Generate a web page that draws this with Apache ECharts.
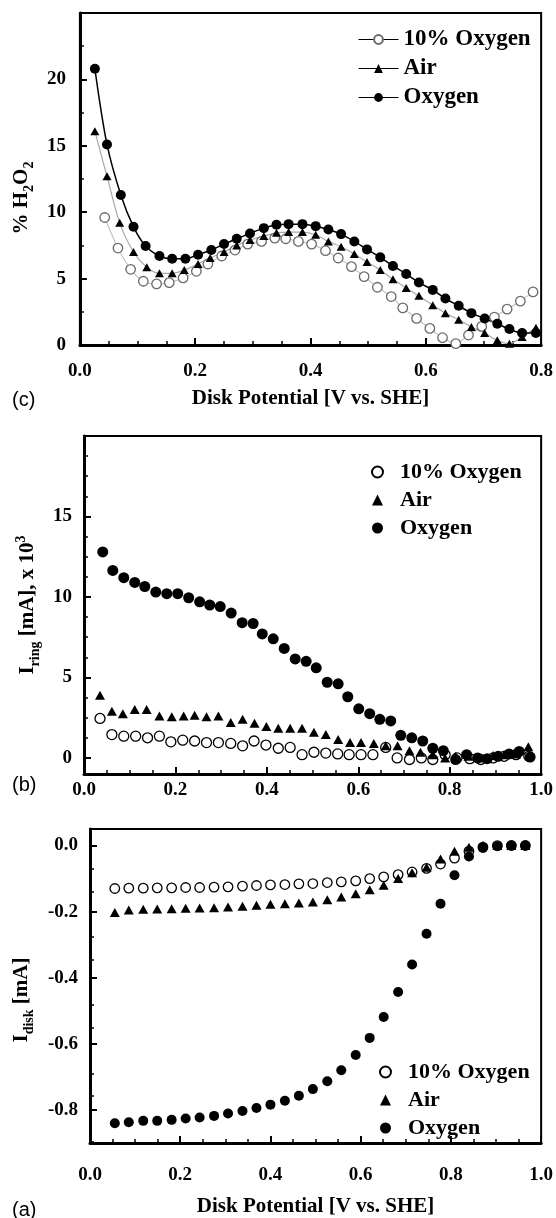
<!DOCTYPE html>
<html><head><meta charset="utf-8">
<script src="https://cdn.jsdelivr.net/npm/echarts@6/dist/echarts.min.js"></script>
<style>html,body{margin:0;padding:0;background:#fff}#chart{width:556px;height:1218px}</style>
</head><body><div id="chart"></div>
<script>
// ---------- Panel (c): % H2O2 vs disk potential ----------
const c10X  = [0.043,0.066,0.088,0.110,0.133,0.155,0.179,0.202,0.222,0.246,0.269,0.291,0.315,0.338,0.357,0.379,0.402,0.426,0.448,0.471,0.493,0.516,0.540,0.560,0.584,0.607,0.629,0.652,0.674,0.697,0.719,0.741,0.764,0.786];
const c10Y  = [9.6,7.3,5.7,4.8,4.6,4.7,5.05,5.55,6.1,6.7,7.15,7.6,7.8,8.05,8.0,7.8,7.6,7.1,6.55,5.9,5.15,4.35,3.65,2.8,2.0,1.25,0.55,0.1,0.75,1.4,2.1,2.7,3.3,4.0];
const cAirX = [0.026,0.047,0.069,0.093,0.116,0.138,0.160,0.181,0.205,0.226,0.250,0.272,0.295,0.319,0.341,0.362,0.386,0.409,0.431,0.453,0.476,0.498,0.521,0.543,0.566,0.588,0.612,0.634,0.657,0.679,0.702,0.724,0.745,0.767,0.791];
const cAirY = [16.1,12.7,9.2,7.0,5.85,5.4,5.4,5.65,6.1,6.55,7.0,7.5,7.9,8.2,8.45,8.5,8.5,8.3,7.8,7.4,6.85,6.25,5.65,4.95,4.3,3.7,3.0,2.4,1.9,1.35,0.9,0.35,0.1,0.6,1.3];
const cOxyX = [0.026,0.047,0.071,0.093,0.114,0.138,0.160,0.183,0.205,0.228,0.250,0.272,0.295,0.319,0.341,0.362,0.386,0.409,0.431,0.453,0.476,0.498,0.521,0.543,0.566,0.588,0.612,0.634,0.657,0.679,0.702,0.724,0.745,0.767,0.791];
const cOxyY = [20.8,15.1,11.3,8.9,7.45,6.7,6.5,6.5,6.8,7.15,7.6,8.0,8.4,8.8,9.05,9.1,9.1,8.95,8.7,8.35,7.8,7.2,6.6,5.95,5.35,4.7,4.15,3.5,2.95,2.4,2.0,1.6,1.2,0.9,0.9];

// ---------- Panel (b): I_ring vs disk potential ----------
const b10X  = [0.035,0.061,0.087,0.113,0.139,0.165,0.190,0.216,0.242,0.268,0.294,0.321,0.347,0.372,0.398,0.425,0.451,0.477,0.503,0.529,0.555,0.580,0.606,0.632,0.660,0.685,0.712,0.738,0.763,0.790,0.816,0.844,0.868,0.895,0.919,0.945,0.973];
const b10Y  = [2.45,1.45,1.35,1.35,1.25,1.35,1.0,1.1,1.05,0.95,0.95,0.9,0.75,1.05,0.8,0.6,0.65,0.2,0.35,0.3,0.25,0.2,0.2,0.2,0.65,0.0,-0.1,0.0,-0.1,0.2,0.0,-0.05,-0.1,0.0,0.1,0.2,0.1];
const bAirX = [0.035,0.061,0.085,0.111,0.137,0.165,0.192,0.218,0.242,0.268,0.294,0.321,0.347,0.373,0.399,0.425,0.451,0.477,0.503,0.529,0.556,0.582,0.606,0.634,0.660,0.686,0.712,0.736,0.763,0.790,0.813,0.841,0.867,0.895,0.919,0.945,0.972];
const bAirY = [3.9,2.9,2.75,3.0,3.0,2.6,2.55,2.6,2.65,2.55,2.6,2.2,2.4,2.15,1.95,1.85,1.85,1.85,1.6,1.45,1.15,0.95,0.95,0.9,0.75,0.75,0.45,0.35,0.2,0.0,0.1,0.1,0.0,0.15,0.2,0.25,0.7];
const bOxyX = [0.041,0.063,0.087,0.111,0.133,0.157,0.181,0.205,0.229,0.253,0.275,0.298,0.322,0.346,0.370,0.390,0.414,0.438,0.462,0.486,0.508,0.532,0.556,0.577,0.601,0.625,0.647,0.671,0.693,0.717,0.741,0.763,0.786,0.813,0.837,0.861,0.882,0.906,0.930,0.952,0.976];
const bOxyY = [12.8,11.65,11.2,10.9,10.65,10.3,10.2,10.2,9.95,9.7,9.5,9.4,9.0,8.4,8.35,7.7,7.4,6.8,6.15,6.0,5.6,4.7,4.6,3.8,3.05,2.75,2.4,2.3,1.4,1.25,1.05,0.6,0.45,-0.1,0.2,0.0,-0.05,0.1,0.25,0.4,0.05];

// ---------- Panel (a): I_disk vs disk potential ----------
const aX    = [0.055,0.086,0.118,0.149,0.181,0.212,0.243,0.275,0.306,0.338,0.369,0.400,0.432,0.463,0.494,0.526,0.557,0.589,0.620,0.651,0.683,0.714,0.746,0.777,0.808,0.840,0.871,0.903,0.934,0.965];
const a10Y  = [-0.130,-0.129,-0.129,-0.128,-0.128,-0.127,-0.127,-0.126,-0.125,-0.123,-0.121,-0.119,-0.118,-0.116,-0.115,-0.112,-0.110,-0.107,-0.100,-0.095,-0.088,-0.080,-0.069,-0.056,-0.038,-0.017,-0.005,0.000,0.000,0.000];
const aAirY = [-0.203,-0.195,-0.193,-0.192,-0.191,-0.190,-0.189,-0.188,-0.186,-0.184,-0.181,-0.178,-0.176,-0.174,-0.171,-0.164,-0.156,-0.146,-0.134,-0.120,-0.100,-0.082,-0.066,-0.041,-0.017,-0.005,0.000,0.000,0.000,0.000];
const aOxyY = [-0.840,-0.837,-0.833,-0.833,-0.830,-0.826,-0.823,-0.818,-0.811,-0.803,-0.794,-0.784,-0.772,-0.757,-0.737,-0.713,-0.680,-0.634,-0.582,-0.519,-0.443,-0.360,-0.267,-0.176,-0.090,-0.033,-0.007,-0.002,0.001,0.001];

// ---------- Tick values ----------
const bYTicks  = [0, 5, 10, 15, 20];
const bYLabels = [0, 5, 10, 15];
const bYMinor  = [1.25, 2.5, 3.75, 6.25, 7.5, 8.75, 11.25, 12.5, 13.75, 16.25, 17.5, 18.75];
const aYTicks  = [-0.8, -0.6, -0.4, -0.2, 0];
const aYMinor  = [-0.8667, -0.7333, -0.6667, -0.5333, -0.4667, -0.3333, -0.2667, -0.1333, -0.0667];

const seriesNames = ['10% Oxygen', 'Air', 'Oxygen'];
const xTitle = 'Disk Potential [V vs. SHE]';

const SERIF = '"Liberation Serif", "Times New Roman", serif';
const SANS = '"Liberation Sans", Arial, sans-serif';

function pairs(xs, ys) { return xs.map((x, i) => [x, ys[i]]); }

const labelFont = {fontFamily: SERIF, fontWeight: 'bold', fontSize: 19, color: '#000'};
const nameFont = {fontFamily: SERIF, fontWeight: 'bold', fontSize: 21, color: '#000'};
const lineAxis = {show: true, onZero: false, lineStyle: {color: '#000', width: 3}};
const majorTick = {show: true, inside: true, length: 7, lineStyle: {color: '#000', width: 2}};

function xAxisCfg(grid, max, margin, name, nameGap) {
  return {
    type: 'value', gridIndex: grid, min: 0, max: max, interval: 0.2,
    axisLine: lineAxis, axisTick: majorTick,
    minorTick: {show: true, splitNumber: 4, length: 4, lineStyle: {color: '#000', width: 1.5}},
    splitLine: {show: false}, minorSplitLine: {show: false},
    axisLabel: Object.assign({margin: margin, formatter: v => v.toFixed(1)}, labelFont),
    name: name, nameLocation: 'middle', nameGap: nameGap, nameTextStyle: nameFont
  };
}

function nameRich(extra) {
  return Object.assign({
    fontFamily: SERIF, fontWeight: 'bold', fontSize: 21, color: '#000', lineHeight: 28,
    rich: {
      s: {fontFamily: SERIF, fontWeight: 'bold', fontSize: 14, color: '#000', lineHeight: 14, verticalAlign: 'bottom'},
      p: {fontFamily: SERIF, fontWeight: 'bold', fontSize: 14, color: '#000', lineHeight: 14, verticalAlign: 'top'}
    }
  }, extra);
}

const grids = [
  {left: 77, top: 13, width: 466, height: 332},
  {left: 84, top: 436, width: 459, height: 338},
  {left: 90, top: 829, width: 453, height: 324}
];
const gridList = grids.map(g => Object.assign({show: true, borderColor: '#000', borderWidth: 2, backgroundColor: 'transparent'}, g))
  .concat([Object.assign({show: false}, grids[1]), Object.assign({show: false}, grids[2])]);

const xAxes = [
  xAxisCfg(0, 0.8, 17, xTitle, 43),
  xAxisCfg(1, 1.0, 7, '', 30),
  xAxisCfg(2, 1.0, 23, xTitle, 53),
  {type: 'value', gridIndex: 3, min: 0, max: 1, show: false},
  {type: 'value', gridIndex: 4, min: 0, max: 1, show: false}
];

const yAxes = [
  {
    type: 'value', gridIndex: 0, min: 0, max: 25, interval: 5,
    axisLine: lineAxis, axisTick: majorTick,
    minorTick: {show: true, splitNumber: 2, length: 4, lineStyle: {color: '#000', width: 1.5}},
    splitLine: {show: false}, minorSplitLine: {show: false},
    axisLabel: Object.assign({margin: 14, formatter: v => (v === 25 ? '' : String(v))}, labelFont),
    name: '% H{s|2}O{s|2}', nameLocation: 'middle', nameGap: 40,
    nameTextStyle: nameRich({padding: [0, 38, 0, 0]})
  },
  {
    type: 'value', gridIndex: 1, min: -1, max: 20,
    axisLine: lineAxis,
    axisTick: Object.assign({customValues: bYTicks}, majorTick),
    splitLine: {show: false},
    axisLabel: Object.assign({margin: 12, customValues: bYLabels, formatter: v => String(v)}, labelFont),
    name: 'I{s|ring} [mA], x 10{p|3}', nameLocation: 'middle', nameGap: 42,
    nameTextStyle: nameRich({})
  },
  {
    type: 'value', gridIndex: 2, min: -0.9, max: 0.05,
    axisLine: lineAxis,
    axisTick: Object.assign({customValues: aYTicks}, majorTick),
    splitLine: {show: false},
    axisLabel: Object.assign({margin: 12, customValues: aYTicks, formatter: v => v.toFixed(1)}, labelFont),
    name: 'I{s|disk} [mA]', nameLocation: 'middle', nameGap: 54,
    nameTextStyle: nameRich({padding: [0, 28, 0, 0]})
  },
  {
    type: 'value', gridIndex: 3, min: -1, max: 20,
    axisLine: {show: false}, axisLabel: {show: false}, splitLine: {show: false},
    axisTick: {show: true, inside: true, length: 4, customValues: bYMinor, lineStyle: {color: '#000', width: 1.5}}
  },
  {
    type: 'value', gridIndex: 4, min: -0.9, max: 0.05,
    axisLine: {show: false}, axisLabel: {show: false}, splitLine: {show: false},
    axisTick: {show: true, inside: true, length: 4, customValues: aYMinor, lineStyle: {color: '#000', width: 1.5}}
  }
];

const openGrey = {color: '#fff', borderColor: '#6a6a6a', borderWidth: 1.3, opacity: 1};
const openBlack = {color: '#fff', borderColor: '#000', borderWidth: 1.3, opacity: 1};
const solid = {color: '#000', opacity: 1};

const series = [
  // panel c
  {type: 'line', name: 'c|' + seriesNames[0], xAxisIndex: 0, yAxisIndex: 0, data: pairs(c10X, c10Y),
   smooth: 0.3, symbol: 'circle', symbolSize: 9.5, itemStyle: openGrey, lineStyle: {color: '#c4c4c4', width: 1.2}},
  {type: 'line', name: 'c|' + seriesNames[1], xAxisIndex: 0, yAxisIndex: 0, data: pairs(cAirX, cAirY),
   smooth: 0.3, symbol: 'triangle', symbolSize: [9, 8], itemStyle: solid, lineStyle: {color: '#a8a8a8', width: 1.2}},
  {type: 'line', name: 'c|' + seriesNames[2], xAxisIndex: 0, yAxisIndex: 0, data: pairs(cOxyX, cOxyY),
   smooth: 0.3, symbol: 'circle', symbolSize: 10, itemStyle: solid, lineStyle: {color: '#000', width: 1.5}},
  // panel b
  {type: 'scatter', name: 'b|' + seriesNames[0], xAxisIndex: 1, yAxisIndex: 1, data: pairs(b10X, b10Y),
   symbol: 'circle', symbolSize: 10, symbolKeepAspect: true, itemStyle: openBlack},
  {type: 'scatter', name: 'b|' + seriesNames[1], xAxisIndex: 1, yAxisIndex: 1, data: pairs(bAirX, bAirY),
   symbol: 'triangle', symbolSize: [10, 9], symbolKeepAspect: true, itemStyle: solid},
  {type: 'scatter', name: 'b|' + seriesNames[2], xAxisIndex: 1, yAxisIndex: 1, data: pairs(bOxyX, bOxyY),
   symbol: 'circle', symbolSize: 11, symbolKeepAspect: true, itemStyle: solid},
  // panel a
  {type: 'scatter', name: 'a|' + seriesNames[0], xAxisIndex: 2, yAxisIndex: 2, data: pairs(aX, a10Y),
   symbol: 'circle', symbolSize: 9.5, symbolKeepAspect: true, itemStyle: openBlack},
  {type: 'scatter', name: 'a|' + seriesNames[1], xAxisIndex: 2, yAxisIndex: 2, data: pairs(aX, aAirY),
   symbol: 'triangle', symbolSize: [10, 9], symbolKeepAspect: true, itemStyle: solid},
  {type: 'scatter', name: 'a|' + seriesNames[2], xAxisIndex: 2, yAxisIndex: 2, data: pairs(aX, aOxyY),
   symbol: 'circle', symbolSize: 10, symbolKeepAspect: true, itemStyle: solid}
];

const legendText = {fontFamily: SERIF, fontWeight: 'bold', fontSize: 22, color: '#000'};
function legendCfg(prefix, left, top, withLine) {
  // scatter legends: square icon box, text pushed right with padding
  return {
    orient: 'vertical', left: left, top: top,
    itemWidth: withLine ? 40 : 11, itemHeight: 11, itemGap: 6,
    selectedMode: false, padding: 0, symbolKeepAspect: true,
    data: seriesNames.map(n => withLine
      ? {name: prefix + '|' + n, lineStyle: {color: '#000', width: 1}}
      : {name: prefix + '|' + n}),
    formatter: name => name.split('|')[1],
    textStyle: Object.assign({}, legendText, withLine ? {fontSize: 23} : {padding: [0, 0, 0, 12]})
  };
}

const option = {
  animation: false,
  backgroundColor: '#fff',
  grid: gridList,
  xAxis: xAxes,
  yAxis: yAxes,
  legend: [
    legendCfg('c', 358, 28, true),
    legendCfg('b', 371, 461, false),
    legendCfg('a', 379, 1061, false)
  ],
  graphic: [
    {type: 'text', left: 12, top: 390, style: {text: '(c)', font: '20px ' + SANS, fill: '#000'}},
    {type: 'text', left: 12, top: 775, style: {text: '(b)', font: '20px ' + SANS, fill: '#000'}},
    {type: 'text', left: 12, top: 1200, style: {text: '(a)', font: '20px ' + SANS, fill: '#000'}}
  ],
  series: series
};

const chart = echarts.init(document.getElementById('chart'), null, {renderer: 'canvas'});
chart.setOption(option);
</script>
</body></html>
